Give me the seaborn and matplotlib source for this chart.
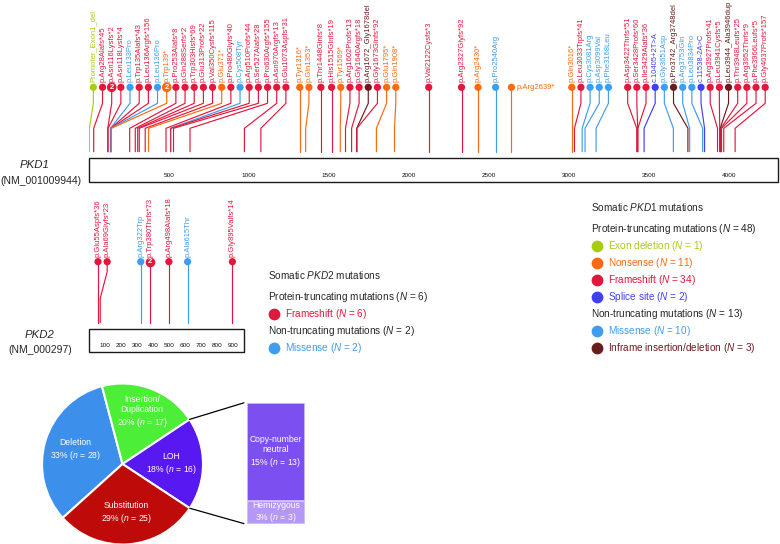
import numpy as np
import pandas as pd
import matplotlib
matplotlib.use('Agg')
import matplotlib.pyplot as plt
from matplotlib.patches import Rectangle, ConnectionPatch
import seaborn as sns

sns.set_theme(style='white')
plt.rcParams['font.family'] = ['Liberation Sans', 'DejaVu Sans']
plt.rcParams['mathtext.fontset'] = 'custom'
plt.rcParams['mathtext.rm'] = 'Liberation Sans'
plt.rcParams['mathtext.it'] = 'Liberation Sans:italic'

# ---- data -------------------------------------------------------------
pkd1_length = 4303
pkd1_ticks = [500, 1000, 1500, 2000, 2500, 3000, 3500, 4000]
pkd1_labels = ['Promoter_Exon1_del', 'p.Arg28Alafs*45', 'p.Asn116Lysfs*2', 'p.Asn118Lysfs*4',
               'p.Leu133Pro', 'p.Trp135Alafs*43', 'p.Leu136Argfs*156', 'p.Leu136Pro', 'p.Trp139*',
               'p.Pro253Alafs*8', 'p.Gln288Serfs*2', 'p.Trp303Hisfs*69', 'p.Glu313Profs*22',
               'p.Val350Cysfs*115', 'p.Glu371*', 'p.Pro480Glyfs*40', 'p.Cys508Tyr', 'p.Arg510Profs*44',
               'p.Ser527Alafs*28', 'p.Pro630Argfs*155', 'p.Asn970Argfs*13', 'p.Glu1073Aspfs*31',
               'p.Tyr1316*', 'p.Gln1353*', 'p.Thr1448Glnfs*8', 'p.His1515Glnfs*19', 'p.Tyr1569*',
               'p.Arg1602Profs*13', 'p.Gly1640Argfs*18', 'p.Arg1672_Gly1678del', 'p.Gly1673Glnfs*92',
               'p.Glu1795*', 'p.Gln1908*', 'p.Val2122Cysfs*3', 'p.Arg2327Glyfs*92', 'p.Arg2430*',
               'p.Pro2540Arg', 'p.Arg2639*', 'p.Gln3016*', 'p.Leu3033Trpfs*41', 'p.Cys3081Arg',
               'p.Asp3099Val', 'p.Phe3168Leu', 'p.Asp3422Thrfs*51', 'p.Ser3428Profs*60',
               'p.Ile3429Alafs*36', 'c.10405+2T>A', 'p.Gly3651Asp', 'p.Pro3742_Arg3748del',
               'p.Arg3753Gln', 'p.Leu3834Pro', 'c.11538-2A>C', 'p.Arg3927Profs*41', 'p.Leu3941Cysfs*5',
               'p.Leu3944_Ala3946dup', 'p.Thr3948Leufs*25', 'p.Arg3952Thrfs*9', 'p.Phe3966Leufs*5',
               'p.Gly4037Profs*157']
pkd1_pos = [1, 28, 116, 118, 133, 135, 136, 136, 139, 253, 288, 303, 313, 350, 371, 480, 508, 510,
            527, 630, 970, 1073, 1316, 1353, 1448, 1515, 1569, 1602, 1640, 1672, 1673, 1795, 1908,
            2122, 2327, 2430, 2540, 2639, 3016, 3033, 3081, 3099, 3168, 3422, 3428, 3429, 3468, 3651,
            3742, 3753, 3834, 3846, 3927, 3941, 3944, 3948, 3952, 3966, 4037]
pkd1_kind = ['EXON', 'FS', 'FS', 'FS', 'MIS', 'FS', 'FS', 'MIS', 'NON', 'FS', 'FS', 'FS', 'FS', 'FS',
             'NON', 'FS', 'MIS', 'FS', 'FS', 'FS', 'FS', 'FS', 'NON', 'NON', 'FS', 'FS', 'NON', 'FS',
             'FS', 'INF', 'FS', 'NON', 'NON', 'FS', 'FS', 'NON', 'MIS', 'NON', 'NON', 'FS', 'MIS',
             'MIS', 'MIS', 'FS', 'FS', 'FS', 'SPL', 'MIS', 'INF', 'MIS', 'MIS', 'SPL', 'FS', 'FS',
             'INF', 'FS', 'FS', 'FS', 'FS']
pkd1_n = [1, 1, 2, 1, 1, 1, 1, 1, 2] + [1] * 50

pkd2_length = 968
pkd2_ticks = [100, 200, 300, 400, 500, 600, 700, 800, 900]
pkd2_labels = ['p.Glu55Aspfs*36', 'p.Ala69Glyfs*23', 'p.Arg322Trp', 'p.Trp380Thrfs*73',
               'p.Arg498Alafs*18', 'p.Ala615Thr', 'p.Gly895Valfs*14']
pkd2_pos = [55, 69, 322, 380, 498, 615, 895]
pkd2_kind = ['FS', 'FS', 'MIS', 'FS', 'FS', 'MIS', 'FS']
pkd2_n = [1, 1, 1, 2, 1, 1, 1]

pie_names = ['Deletion', 'Insertion/\nDuplication', 'LOH', 'Substitution']
pie_counts = [28, 17, 16, 25]
pie_pct = [33, 20, 18, 29]
loh_names = ['Hemizygous', 'Copy-number\nneutral']
loh_counts = [3, 13]
loh_pct = [3, 15]

KIND_NAMES = {'EXON': 'Exon deletion', 'NON': 'Nonsense', 'FS': 'Frameshift',
              'SPL': 'Splice site', 'MIS': 'Missense', 'INF': 'Inframe insertion/deletion'}
COLORS = {'EXON': '#a8cc12', 'NON': '#fb6a10', 'FS': '#e3173c', 'SPL': '#4040f2',
          'MIS': '#3f9df0', 'INF': '#6a1c1c'}
GROUPS = [('Protein-truncating', ['EXON', 'NON', 'FS', 'SPL']), ('Non-truncating', ['MIS', 'INF'])]
HORIZONTAL = {'p.Arg2639*'}
pie_colors = ['#3c8fea', '#4cee38', '#5818f2', '#bf0a0a']
loh_colors = ['#b597f5', '#7c4ff0']

W, H = 780, 544
fig = plt.figure(figsize=(W / 100, H / 100), dpi=100)


def rect(left, top, width, height):
    return [left / W, 1 - (top + height) / H, width / W, height / H]


def spread(pos, gap, lo, hi):
    out = []
    for p in pos:
        out.append(max(p, lo) if not out else max(p, out[-1] + gap))
    for i in range(len(out) - 1, -1, -1):
        lim = hi if i == len(out) - 1 else out[i + 1] - gap
        out[i] = min(out[i], lim)
    return out


def draw_track(ax, labels, pos, kind, n, length, ticks, geo, lo, hi):
    box_h, y_base, y_low, y_high, y_dot = geo
    df = pd.DataFrame({'label': labels, 'pos': pos, 'kind': kind, 'n': n})
    df['lx'] = spread(pos, 57.3, lo, hi)
    df['dot'] = y_dot
    for r in df.itertuples():
        ax.plot([r.pos, r.pos, r.lx, r.lx], [y_base, y_low, y_high, y_dot],
                color=COLORS[r.kind], lw=0.85, zorder=1, solid_joinstyle='miter')
    sns.scatterplot(data=df[df.n == 1], x='lx', y='dot', hue='kind', palette=COLORS, s=27,
                    linewidth=0, legend=False, ax=ax, zorder=3, clip_on=False)
    multi = df[df.n > 1]
    sns.scatterplot(data=multi, x='lx', y='dot', hue='kind', palette=COLORS, s=48,
                    linewidth=0, legend=False, ax=ax, zorder=3, clip_on=False)
    for r in multi.itertuples():
        ax.text(r.lx, y_dot, str(r.n), color='white', fontsize=5.5, fontweight='bold',
                ha='center', va='center', zorder=4)
    for r in df.itertuples():
        if r.label in HORIZONTAL:
            ax.annotate(r.label, (r.lx, y_dot), xytext=(3.3, 0), textcoords='offset points',
                        ha='left', va='center', fontsize=5.5, color=COLORS[r.kind])
        else:
            ax.annotate(r.label, (r.lx, y_dot), xytext=(0, 3.6), textcoords='offset points',
                        rotation=90, ha='center', va='bottom', fontsize=5.5, color=COLORS[r.kind])
    ax.add_patch(Rectangle((0, 0), length, box_h, fill=False, ec='#1a1a1a', lw=1.0, clip_on=False))
    for t in ticks:
        ax.text(t, 6, str(t), fontsize=4.6, ha='center', va='center', color='#111111')
    ax.set_xlim(0, length)
    ax.axis('off')


# ---- canvas for free text ---------------------------------------------
canvas = fig.add_axes([0, 0, 1, 1])
canvas.set_xlim(0, W)
canvas.set_ylim(H, 0)
canvas.axis('off')

# ---- PKD1 track ---------------------------------------------------------
ax1 = fig.add_axes(rect(89.2, 0, pkd1_length * 0.16, 181.7))
ax1.set_ylim(0, 181.7)
draw_track(ax1, pkd1_labels, pkd1_pos, pkd1_kind, pkd1_n, pkd1_length, pkd1_ticks,
           (23.4, 30, 53.4, 78.4, 94.4), 26, 4225)

# ---- PKD2 track ---------------------------------------------------------
ax2 = fig.add_axes(rect(89.2, 190, pkd2_length * 0.16, 161.7))
ax2.set_ylim(0, 161.7)
draw_track(ax2, pkd2_labels, pkd2_pos, pkd2_kind, pkd2_n, pkd2_length, pkd2_ticks,
           (22.7, 29, 53.4, 80, 90), 26, pkd2_length)

canvas.text(35, 165, 'PKD1', fontsize=8.2, style='italic', ha='center', va='center')
canvas.text(41, 181, '(NM_001009944)', fontsize=7.5, ha='center', va='center')
canvas.text(40, 335, 'PKD2', fontsize=8.2, style='italic', ha='center', va='center')
canvas.text(40, 350, '(NM_000297)', fontsize=7.5, ha='center', va='center')


def legend_block(gene, kinds, counts, x, y0):
    tot = {}
    for k, c in zip(kinds, counts):
        tot[k] = tot.get(k, 0) + c
    canvas.text(x, y0, 'Somatic $\\mathit{' + gene + '}$ mutations', fontsize=7.2, va='center')
    y = y0 + 21.5
    for head, members in GROUPS:
        present = [k for k in members if k in tot]
        canvas.text(x, y, f'{head} mutations ($N$ = {sum(tot[k] for k in present)})',
                    fontsize=7.2, va='center')
        y += 17.1
        for k in present:
            canvas.scatter([x + 6], [y], s=72, color=COLORS[k], linewidth=0)
            canvas.text(x + 17, y, f'{KIND_NAMES[k]} ($N$ = {tot[k]})', fontsize=7.2,
                        va='center', color=COLORS[k])
            y += 17.1


legend_block('PKD2', pkd2_kind, pkd2_n, 267.6, 275)
legend_block('PKD1', pkd1_kind, pkd1_n, 590.8, 207)

# ---- pie ----------------------------------------------------------------
axp = fig.add_axes(rect(42, 383.5, 161, 161))
wedges, _ = axp.pie(pie_counts, colors=pie_colors, startangle=222, counterclock=False,
                    wedgeprops=dict(edgecolor='white', linewidth=1.5))
axp.set_xlim(-1, 1)
axp.set_ylim(-1, 1)
for w, name, pct, c in zip(wedges, pie_names, pie_pct, pie_counts):
    mid = np.deg2rad((w.theta1 + w.theta2) / 2)
    r = 0.69 if '\n' in name else 0.61
    axp.text(r * np.cos(mid), r * np.sin(mid), f'{name}\n{pct}% ($n$ = {c})', color='white',
             fontsize=6.2, ha='center', va='center', linespacing=1.15)

# ---- LOH breakdown bar --------------------------------------------------
axb = fig.add_axes(rect(246.6, 402.8, 58.8, 120.8))
bottom = 0
for name, c, pct, col in zip(loh_names, loh_counts, loh_pct, loh_colors):
    axb.bar(0, c, bottom=bottom, width=1, color=col, edgecolor='#d6c9f8', linewidth=1.2)
    axb.text(0, bottom + c / 2, f'{name}\n{pct}% ($n$ = {c})', color='white', fontsize=6.2,
             ha='center', va='center', linespacing=1.15)
    bottom += c
axb.set_xlim(-0.5, 0.5)
axb.set_ylim(0, sum(loh_counts))
axb.axis('off')

loh = wedges[pie_names.index('LOH')]
for ang, yb in [(loh.theta2, sum(loh_counts)), (loh.theta1, 0)]:
    a = np.deg2rad(ang)
    con = ConnectionPatch(xyA=(np.cos(a), np.sin(a)), coordsA=axp.transData,
                          xyB=(-0.545, yb), coordsB=axb.transData, color='black', lw=0.9)
    fig.add_artist(con)

fig.savefig('out.png', dpi=100)
